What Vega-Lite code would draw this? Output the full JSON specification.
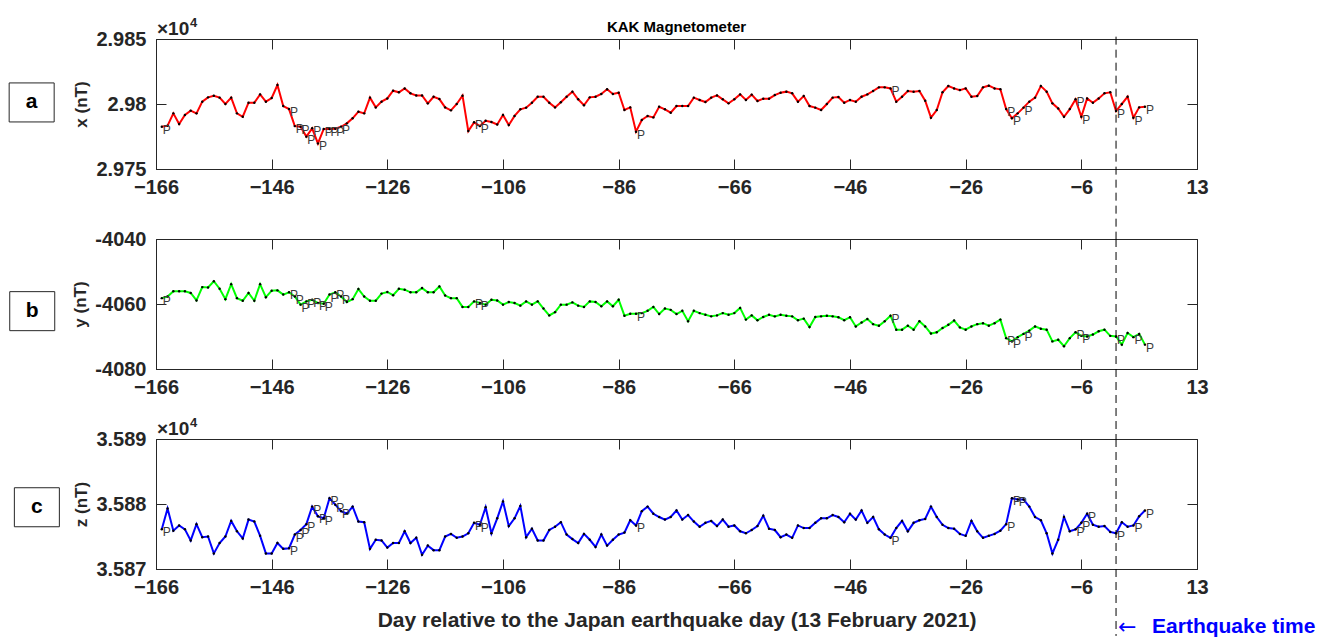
{
  "$schema": "https://vega.github.io/schema/vega-lite/v6.json",
  "background": "white",
  "padding": {"left": 6, "top": 16, "right": 13, "bottom": 0},
  "spacing": 70,
  "bounds": "flush",
  "config": {
    "font": "Liberation Sans",
    "view": {"stroke": "#262626", "strokeWidth": 1},
    "axis": {
      "grid": false,
      "tickSize": -10,
      "tickWidth": 1,
      "tickColor": "#262626",
      "domainColor": "#262626",
      "domainWidth": 1,
      "labelFont": "Liberation Sans",
      "labelFontSize": 20,
      "labelFontWeight": "bold",
      "labelColor": "#262626",
      "labelFlush": false,
      "labelOverlap": false,
      "titleFont": "Liberation Sans",
      "titleFontWeight": "bold",
      "titleColor": "#262626"
    }
  },
  "datasets": {
    "xs": [
      {"d":-165,"v":29782.5,"p":1},{"d":-164,"v":29783.3},{"d":-163,"v":29792.8},{"d":-162,"v":29784.6},{"d":-161,"v":29791.5},
      {"d":-160,"v":29794.9},{"d":-159,"v":29792.8},{"d":-158,"v":29801.8},{"d":-157,"v":29805.1},{"d":-156,"v":29806.4},
      {"d":-155,"v":29804.9},{"d":-154,"v":29800.0},{"d":-153,"v":29804.9},{"d":-152,"v":29792.8},{"d":-151,"v":29790.2},
      {"d":-150,"v":29801.0},{"d":-149,"v":29801.0},{"d":-148,"v":29807.4},{"d":-147,"v":29801.8},{"d":-146,"v":29804.6},
      {"d":-145,"v":29814.6},{"d":-144,"v":29798.4},{"d":-143,"v":29796.1,"p":1},{"d":-142,"v":29783.0,"p":1},{"d":-141,"v":29782.5,"p":1},
      {"d":-140,"v":29774.9,"p":1},{"d":-139,"v":29781.3,"p":1},{"d":-138,"v":29769.7,"p":1},{"d":-137,"v":29780.8,"p":1},{"d":-136,"v":29780.8,"p":1},
      {"d":-135,"v":29781.0,"p":1},{"d":-134,"v":29782.5,"p":1},{"d":-133,"v":29785.1},{"d":-132,"v":29789.0},{"d":-131,"v":29794.1},
      {"d":-130,"v":29792.8},{"d":-129,"v":29804.9},{"d":-128,"v":29797.4},{"d":-127,"v":29801.8},{"d":-126,"v":29804.3},
      {"d":-125,"v":29810.2},{"d":-124,"v":29809.0},{"d":-123,"v":29812.0},{"d":-122,"v":29808.2},{"d":-121,"v":29806.6},
      {"d":-120,"v":29806.6},{"d":-119,"v":29800.5},{"d":-118,"v":29805.6},{"d":-117,"v":29803.8},{"d":-116,"v":29797.4},
      {"d":-115,"v":29795.1},{"d":-114,"v":29800.0},{"d":-113,"v":29806.4},{"d":-112,"v":29779.2},{"d":-111,"v":29785.9,"p":1},
      {"d":-110,"v":29783.0,"p":1},{"d":-109,"v":29787.1},{"d":-108,"v":29786.1},{"d":-107,"v":29784.3},{"d":-106,"v":29791.5},
      {"d":-105,"v":29783.8},{"d":-104,"v":29790.8},{"d":-103,"v":29795.9},{"d":-102,"v":29797.2},{"d":-101,"v":29801.0},
      {"d":-100,"v":29805.6},{"d":-99,"v":29805.6},{"d":-98,"v":29801.0},{"d":-97,"v":29797.4},{"d":-96,"v":29801.3},
      {"d":-95,"v":29805.6},{"d":-94,"v":29809.5},{"d":-93,"v":29803.6},{"d":-92,"v":29799.0},{"d":-91,"v":29805.1},
      {"d":-90,"v":29805.6},{"d":-89,"v":29807.7},{"d":-88,"v":29811.3},{"d":-87,"v":29807.7},{"d":-86,"v":29808.7},
      {"d":-85,"v":29795.4},{"d":-84,"v":29797.4},{"d":-83,"v":29778.7,"p":1},{"d":-82,"v":29787.7},{"d":-81,"v":29790.8},
      {"d":-80,"v":29789.7},{"d":-79,"v":29797.9},{"d":-78,"v":29795.9},{"d":-77,"v":29793.3},{"d":-76,"v":29798.4},
      {"d":-75,"v":29798.4},{"d":-74,"v":29798.4},{"d":-73,"v":29804.9},{"d":-72,"v":29803.1},{"d":-71,"v":29801.5},
      {"d":-70,"v":29804.9},{"d":-69,"v":29806.6},{"d":-68,"v":29803.6},{"d":-67,"v":29800.5},{"d":-66,"v":29803.6},
      {"d":-65,"v":29807.4},{"d":-64,"v":29803.1},{"d":-63,"v":29807.2},{"d":-62,"v":29802.3},{"d":-61,"v":29804.1},
      {"d":-60,"v":29804.1},{"d":-59,"v":29806.9},{"d":-58,"v":29808.7},{"d":-57,"v":29809.5},{"d":-56,"v":29808.2},
      {"d":-55,"v":29801.8},{"d":-54,"v":29806.1},{"d":-53,"v":29798.4},{"d":-52,"v":29797.2},{"d":-51,"v":29795.4},
      {"d":-50,"v":29800.0},{"d":-49,"v":29804.9},{"d":-48,"v":29805.4},{"d":-47,"v":29801.0},{"d":-46,"v":29803.1},
      {"d":-45,"v":29801.8},{"d":-44,"v":29805.6},{"d":-43,"v":29807.4},{"d":-42,"v":29810.0},{"d":-41,"v":29812.8},
      {"d":-40,"v":29812.8},{"d":-39,"v":29812.0,"p":1},{"d":-38,"v":29801.8},{"d":-37,"v":29805.6},{"d":-36,"v":29810.0},
      {"d":-35,"v":29809.5},{"d":-34,"v":29810.0},{"d":-33,"v":29802.5},{"d":-32,"v":29789.5},{"d":-31,"v":29795.4},
      {"d":-30,"v":29809.0},{"d":-29,"v":29813.8},{"d":-28,"v":29812.0},{"d":-27,"v":29810.7},{"d":-26,"v":29812.0},
      {"d":-25,"v":29805.6},{"d":-24,"v":29806.1},{"d":-23,"v":29812.8},{"d":-22,"v":29814.1},{"d":-21,"v":29812.0},
      {"d":-20,"v":29811.3},{"d":-19,"v":29796.1,"p":1},{"d":-18,"v":29789.0,"p":1},{"d":-17,"v":29792.8},{"d":-16,"v":29797.2,"p":1},
      {"d":-15,"v":29801.8},{"d":-14,"v":29804.9},{"d":-13,"v":29813.8},{"d":-12,"v":29809.5},{"d":-11,"v":29800.5},
      {"d":-10,"v":29796.6},{"d":-9,"v":29790.2},{"d":-8,"v":29796.1},{"d":-7,"v":29803.6,"p":1},{"d":-6,"v":29790.2,"p":1},
      {"d":-5,"v":29804.3},{"d":-4,"v":29801.0},{"d":-3,"v":29804.3},{"d":-2,"v":29808.2},{"d":-1,"v":29809.0},
      {"d":0,"v":29794.6,"p":1},{"d":1,"v":29800.0},{"d":2,"v":29805.6},{"d":3,"v":29789.5,"p":1},{"d":4,"v":29797.4},
      {"d":5,"v":29797.9,"p":1}
    ],
    "ys": [
      {"d":-165,"v":-4058.2,"p":1},{"d":-164,"v":-4057.7},{"d":-163,"v":-4056.1},{"d":-162,"v":-4056.1},{"d":-161,"v":-4056.1},
      {"d":-160,"v":-4056.6},{"d":-159,"v":-4058.9},{"d":-158,"v":-4054.8},{"d":-157,"v":-4054.9},{"d":-156,"v":-4053.0},
      {"d":-155,"v":-4055.3},{"d":-154,"v":-4058.5},{"d":-153,"v":-4053.9},{"d":-152,"v":-4058.2},{"d":-151,"v":-4059.0},
      {"d":-150,"v":-4056.6},{"d":-149,"v":-4059.0},{"d":-148,"v":-4053.9},{"d":-147,"v":-4057.9},{"d":-146,"v":-4055.9},
      {"d":-145,"v":-4055.8},{"d":-144,"v":-4057.1},{"d":-143,"v":-4056.4,"p":1},{"d":-142,"v":-4057.7,"p":1},{"d":-141,"v":-4060.2,"p":1},
      {"d":-140,"v":-4059.2,"p":1},{"d":-139,"v":-4058.7,"p":1},{"d":-138,"v":-4059.7,"p":1},{"d":-137,"v":-4059.9,"p":1},{"d":-136,"v":-4057.1,"p":1},
      {"d":-135,"v":-4056.4,"p":1},{"d":-134,"v":-4057.7,"p":1},{"d":-133,"v":-4059.4},{"d":-132,"v":-4058.5},{"d":-131,"v":-4055.4},
      {"d":-130,"v":-4057.7},{"d":-129,"v":-4059.0},{"d":-128,"v":-4059.0},{"d":-127,"v":-4056.8},{"d":-126,"v":-4056.3},
      {"d":-125,"v":-4057.3},{"d":-124,"v":-4055.3},{"d":-123,"v":-4055.6},{"d":-122,"v":-4056.4},{"d":-121,"v":-4056.4},
      {"d":-120,"v":-4055.1},{"d":-119,"v":-4056.4},{"d":-118,"v":-4056.4},{"d":-117,"v":-4054.6},{"d":-116,"v":-4057.4},
      {"d":-115,"v":-4058.2},{"d":-114,"v":-4058.2},{"d":-113,"v":-4060.9},{"d":-112,"v":-4060.9},{"d":-111,"v":-4059.2,"p":1},
      {"d":-110,"v":-4059.7,"p":1},{"d":-109,"v":-4060.2},{"d":-108,"v":-4058.7},{"d":-107,"v":-4058.9},{"d":-106,"v":-4060.2},
      {"d":-105,"v":-4059.4},{"d":-104,"v":-4059.7},{"d":-103,"v":-4060.5},{"d":-102,"v":-4059.2},{"d":-101,"v":-4060.2},
      {"d":-100,"v":-4059.2},{"d":-99,"v":-4061.4},{"d":-98,"v":-4063.5},{"d":-97,"v":-4062.5},{"d":-96,"v":-4060.2},
      {"d":-95,"v":-4060.2},{"d":-94,"v":-4059.5},{"d":-93,"v":-4060.5},{"d":-92,"v":-4060.9},{"d":-91,"v":-4059.2},
      {"d":-90,"v":-4059.4},{"d":-89,"v":-4060.7},{"d":-88,"v":-4059.2},{"d":-87,"v":-4060.7},{"d":-86,"v":-4058.7},
      {"d":-85,"v":-4063.6},{"d":-84,"v":-4063.0},{"d":-83,"v":-4063.0,"p":1},{"d":-82,"v":-4062.8},{"d":-81,"v":-4062.1},
      {"d":-80,"v":-4060.9},{"d":-79,"v":-4063.1},{"d":-78,"v":-4061.4},{"d":-77,"v":-4061.8},{"d":-76,"v":-4063.1},
      {"d":-75,"v":-4062.1},{"d":-74,"v":-4065.3},{"d":-73,"v":-4062.1},{"d":-72,"v":-4062.8},{"d":-71,"v":-4063.3},
      {"d":-70,"v":-4063.8},{"d":-69,"v":-4063.5},{"d":-68,"v":-4062.8},{"d":-67,"v":-4063.3},{"d":-66,"v":-4062.8},
      {"d":-65,"v":-4061.2},{"d":-64,"v":-4064.8},{"d":-63,"v":-4063.5},{"d":-62,"v":-4065.0},{"d":-61,"v":-4064.0},
      {"d":-60,"v":-4063.3},{"d":-59,"v":-4063.8},{"d":-58,"v":-4063.3},{"d":-57,"v":-4063.6},{"d":-56,"v":-4063.8},
      {"d":-55,"v":-4065.0},{"d":-54,"v":-4064.5},{"d":-53,"v":-4067.1},{"d":-52,"v":-4064.0},{"d":-51,"v":-4063.8},
      {"d":-50,"v":-4063.6},{"d":-49,"v":-4063.8},{"d":-48,"v":-4064.1},{"d":-47,"v":-4065.0},{"d":-46,"v":-4064.1},
      {"d":-45,"v":-4066.9},{"d":-44,"v":-4065.7},{"d":-43,"v":-4064.6},{"d":-42,"v":-4066.2},{"d":-41,"v":-4066.7},
      {"d":-40,"v":-4065.3},{"d":-39,"v":-4063.6,"p":1},{"d":-38,"v":-4067.9},{"d":-37,"v":-4067.9},{"d":-36,"v":-4066.7},
      {"d":-35,"v":-4067.9},{"d":-34,"v":-4065.3},{"d":-33,"v":-4066.9},{"d":-32,"v":-4069.1},{"d":-31,"v":-4068.7},
      {"d":-30,"v":-4067.4},{"d":-29,"v":-4066.4},{"d":-28,"v":-4065.1},{"d":-27,"v":-4067.2},{"d":-26,"v":-4067.9},
      {"d":-25,"v":-4066.9},{"d":-24,"v":-4066.2},{"d":-23,"v":-4065.9},{"d":-22,"v":-4066.7},{"d":-21,"v":-4065.9},
      {"d":-20,"v":-4064.8},{"d":-19,"v":-4070.5,"p":1},{"d":-18,"v":-4071.5,"p":1},{"d":-17,"v":-4070.2},{"d":-16,"v":-4069.2,"p":1},
      {"d":-15,"v":-4068.2},{"d":-14,"v":-4066.9},{"d":-13,"v":-4067.6},{"d":-12,"v":-4067.9},{"d":-11,"v":-4071.5},
      {"d":-10,"v":-4071.0},{"d":-9,"v":-4073.0},{"d":-8,"v":-4070.5},{"d":-7,"v":-4068.7,"p":1},{"d":-6,"v":-4069.8,"p":1},
      {"d":-5,"v":-4070.0},{"d":-4,"v":-4069.4},{"d":-3,"v":-4068.4},{"d":-2,"v":-4067.9},{"d":-1,"v":-4069.8},
      {"d":0,"v":-4070.0,"p":1},{"d":1,"v":-4072.5},{"d":2,"v":-4068.9},{"d":3,"v":-4070.2,"p":1},{"d":4,"v":-4069.2},
      {"d":5,"v":-4072.5,"p":1}
    ],
    "zs": [
      {"d":-165,"v":35876.1,"p":1},{"d":-164,"v":35879.3},{"d":-163,"v":35875.9},{"d":-162,"v":35876.7},{"d":-161,"v":35876.1},
      {"d":-160,"v":35874.4},{"d":-159,"v":35876.9},{"d":-158,"v":35874.9},{"d":-157,"v":35875.0},{"d":-156,"v":35872.4},
      {"d":-155,"v":35874.0},{"d":-154,"v":35875.0},{"d":-153,"v":35877.4},{"d":-152,"v":35875.8},{"d":-151,"v":35874.7},
      {"d":-150,"v":35877.6},{"d":-149,"v":35877.3},{"d":-148,"v":35875.1},{"d":-147,"v":35872.4},{"d":-146,"v":35872.4},
      {"d":-145,"v":35874.0},{"d":-144,"v":35873.1},{"d":-143,"v":35873.2,"p":1},{"d":-142,"v":35875.3,"p":1},{"d":-141,"v":35876.0,"p":1},
      {"d":-140,"v":35876.9,"p":1},{"d":-139,"v":35879.6,"p":1},{"d":-138,"v":35878.1,"p":1},{"d":-137,"v":35877.8,"p":1},{"d":-136,"v":35880.9,"p":1},
      {"d":-135,"v":35879.9,"p":1},{"d":-134,"v":35878.9,"p":1},{"d":-133,"v":35878.5},{"d":-132,"v":35879.6},{"d":-131,"v":35877.3},
      {"d":-130,"v":35877.2},{"d":-129,"v":35873.1},{"d":-128,"v":35874.5},{"d":-127,"v":35874.4},{"d":-126,"v":35873.3},
      {"d":-125,"v":35874.0},{"d":-124,"v":35874.0},{"d":-123,"v":35875.8},{"d":-122,"v":35874.0},{"d":-121,"v":35874.8},
      {"d":-120,"v":35872.2},{"d":-119,"v":35873.6},{"d":-118,"v":35872.9},{"d":-117,"v":35872.9},{"d":-116,"v":35875.0},
      {"d":-115,"v":35875.4},{"d":-114,"v":35874.8},{"d":-113,"v":35875.0},{"d":-112,"v":35875.5},{"d":-111,"v":35877.1,"p":1},
      {"d":-110,"v":35876.8,"p":1},{"d":-109,"v":35879.5},{"d":-108,"v":35875.5},{"d":-107,"v":35877.8},{"d":-106,"v":35880.4},
      {"d":-105,"v":35876.6},{"d":-104,"v":35877.8},{"d":-103,"v":35879.7},{"d":-102,"v":35874.9},{"d":-101,"v":35876.2},
      {"d":-100,"v":35874.4},{"d":-99,"v":35874.4},{"d":-98,"v":35876.0},{"d":-97,"v":35876.5},{"d":-96,"v":35877.2},
      {"d":-95,"v":35875.3},{"d":-94,"v":35874.6},{"d":-93,"v":35874.0},{"d":-92,"v":35875.4},{"d":-91,"v":35874.5},
      {"d":-90,"v":35873.4},{"d":-89,"v":35875.3},{"d":-88,"v":35873.6},{"d":-87,"v":35874.5},{"d":-86,"v":35875.3},
      {"d":-85,"v":35875.6},{"d":-84,"v":35877.5},{"d":-83,"v":35876.7,"p":1},{"d":-82,"v":35878.9},{"d":-81,"v":35879.6},
      {"d":-80,"v":35878.5},{"d":-79,"v":35878.0},{"d":-78,"v":35877.6},{"d":-77,"v":35878.0},{"d":-76,"v":35879.0},
      {"d":-75,"v":35877.6},{"d":-74,"v":35878.3},{"d":-73,"v":35877.3},{"d":-72,"v":35876.5},{"d":-71,"v":35877.1},
      {"d":-70,"v":35877.4},{"d":-69,"v":35876.6},{"d":-68,"v":35877.6},{"d":-67,"v":35876.5},{"d":-66,"v":35876.7},
      {"d":-65,"v":35875.8},{"d":-64,"v":35875.5},{"d":-63,"v":35876.0},{"d":-62,"v":35876.6},{"d":-61,"v":35878.2},
      {"d":-60,"v":35876.2},{"d":-59,"v":35876.0},{"d":-58,"v":35874.9},{"d":-57,"v":35875.3},{"d":-56,"v":35874.8},
      {"d":-55,"v":35876.7},{"d":-54,"v":35876.3},{"d":-53,"v":35876.3},{"d":-52,"v":35877.1},{"d":-51,"v":35877.8},
      {"d":-50,"v":35877.8},{"d":-49,"v":35878.3},{"d":-48,"v":35878.0},{"d":-47,"v":35877.2},{"d":-46,"v":35878.5},
      {"d":-45,"v":35877.6},{"d":-44,"v":35879.0},{"d":-43,"v":35877.1},{"d":-42,"v":35878.0},{"d":-41,"v":35876.1},
      {"d":-40,"v":35875.3},{"d":-39,"v":35874.8,"p":1},{"d":-38,"v":35876.3},{"d":-37,"v":35877.4},{"d":-36,"v":35875.8},
      {"d":-35,"v":35877.1},{"d":-34,"v":35877.5},{"d":-33,"v":35877.7},{"d":-32,"v":35879.6},{"d":-31,"v":35878.0},
      {"d":-30,"v":35876.8},{"d":-29,"v":35876.3},{"d":-28,"v":35876.2},{"d":-27,"v":35875.4},{"d":-26,"v":35875.1},
      {"d":-25,"v":35877.4},{"d":-24,"v":35875.8},{"d":-23,"v":35874.8},{"d":-22,"v":35875.1},{"d":-21,"v":35875.4},
      {"d":-20,"v":35875.9},{"d":-19,"v":35876.9,"p":1},{"d":-18,"v":35880.9,"p":1},{"d":-17,"v":35880.7,"p":1},{"d":-16,"v":35880.7},
      {"d":-15,"v":35879.6},{"d":-14,"v":35878.0},{"d":-13,"v":35877.5},{"d":-12,"v":35875.5},{"d":-11,"v":35872.4},
      {"d":-10,"v":35874.5},{"d":-9,"v":35878.0},{"d":-8,"v":35875.8},{"d":-7,"v":35876.1,"p":1},{"d":-6,"v":35877.1,"p":1},
      {"d":-5,"v":35878.5,"p":1},{"d":-4,"v":35876.8},{"d":-3,"v":35876.5},{"d":-2,"v":35876.6},{"d":-1,"v":35875.7},
      {"d":0,"v":35875.5,"p":1},{"d":1,"v":35877.2},{"d":2,"v":35876.5},{"d":3,"v":35876.7,"p":1},{"d":4,"v":35878.1},
      {"d":5,"v":35879.0,"p":1}
    ]
  },
  "vconcat": [
    {
      "width": 1041, "height": 130,
      "resolve": {"axis": {"x": "independent", "y": "independent"}},
      "layer": [
        {"data": {"name": "xs"}, "mark": {"type": "line", "color": "#ff0000", "strokeWidth": 2},
         "encoding": {
           "x": {"field": "d", "type": "quantitative", "scale": {"domain": [-166, 14], "nice": false, "zero": false},
                 "axis": {"orient": "bottom", "values": [-166,-146,-126,-106,-86,-66,-46,-26,-6,14], "labelExpr": "datum.value == 14 ? '13' : datum.label", "labelPadding": 18, "title": null}},
           "y": {"field": "v", "type": "quantitative", "scale": {"domain": [29750, 29850], "nice": false, "zero": false},
                 "axis": {"orient": "left", "values": [29750, 29800, 29850], "labelExpr": "format(datum.value / 10000, '.3~f')", "labelPadding": 20, "title": "x (nT)", "titleFontSize": 17, "titlePadding": 5.5}}
         }},
        {"data": {"name": "xs"}, "mark": {"type": "point", "filled": true, "color": "#000000", "size": 6, "opacity": 1},
         "encoding": {
           "x": {"field": "d", "type": "quantitative", "axis": {"orient": "top", "values": [-166,-146,-126,-106,-86,-66,-46,-26,-6,14], "labels": false, "domain": false, "title": null}},
           "y": {"field": "v", "type": "quantitative", "axis": {"orient": "right", "values": [29750, 29800, 29850], "labels": false, "domain": false, "title": null}}
         }},
        {"data": {"name": "xs"}, "transform": [{"filter": "datum.p"}],
         "mark": {"type": "text", "text": "P", "align": "left", "baseline": "middle", "dx": 1, "dy": 3, "fontSize": 12, "color": "#3a3a3a"},
         "encoding": {"x": {"field": "d", "type": "quantitative", "axis": null}, "y": {"field": "v", "type": "quantitative", "axis": null}}},
        {"data": {"values": [{}]}, "mark": {"type": "rule", "strokeDash": [8, 5], "color": "#000000", "strokeWidth": 1, "clip": false},
         "encoding": {"x": {"datum": 0, "type": "quantitative", "axis": null}, "y": {"datum": 29851.8, "type": "quantitative", "axis": null}, "y2": {"datum": 29696}}},
        {"data": {"values": [{"lab": "a"}]}, "mark": {"type": "point", "shape": "M-1,-0.867L1,-0.867L1,0.867L-1,0.867Z", "size": 2025, "filled": true, "color": "#ffffff", "stroke": "#262626", "strokeWidth": 1, "opacity": 1, "clip": false},
         "encoding": {"x": {"datum": -187.5, "type": "quantitative", "axis": null}, "y": {"datum": 29801.2, "type": "quantitative", "axis": null}}},
        {"data": {"values": [{"lab": "a"}]}, "mark": {"type": "text", "fontSize": 21, "fontWeight": "bold", "align": "center", "baseline": "middle", "color": "#000000", "clip": false},
         "encoding": {"text": {"field": "lab"}, "x": {"datum": -187.5, "type": "quantitative", "axis": null}, "y": {"datum": 29801.2, "type": "quantitative", "axis": null}}},
        {"data": {"values": [{"t": "×10"}]}, "mark": {"type": "text", "fontSize": 19, "fontWeight": "bold", "align": "left", "baseline": "alphabetic", "dx": 1, "dy": -4, "color": "#262626", "clip": false},
         "encoding": {"text": {"field": "t"}, "x": {"datum": -166, "type": "quantitative", "axis": null}, "y": {"datum": 29850, "type": "quantitative", "axis": null}}},
        {"data": {"values": [{"t": "4"}]}, "mark": {"type": "text", "fontSize": 13, "fontWeight": "bold", "align": "left", "baseline": "alphabetic", "dx": 34, "dy": -12, "color": "#262626", "clip": false},
         "encoding": {"text": {"field": "t"}, "x": {"datum": -166, "type": "quantitative", "axis": null}, "y": {"datum": 29850, "type": "quantitative", "axis": null}}},
        {"data": {"values": [{"t": "KAK Magnetometer"}]}, "mark": {"type": "text", "fontSize": 15, "fontWeight": "bold", "align": "center", "baseline": "alphabetic", "dy": -7.5, "color": "#000000", "clip": false},
         "encoding": {"text": {"field": "t"}, "x": {"datum": -76, "type": "quantitative", "axis": null}, "y": {"datum": 29850, "type": "quantitative", "axis": null}}}
      ]
    },
    {
      "width": 1041, "height": 130,
      "resolve": {"axis": {"x": "independent", "y": "independent"}},
      "layer": [
        {"data": {"name": "ys"}, "mark": {"type": "line", "color": "#00ff00", "strokeWidth": 2},
         "encoding": {
           "x": {"field": "d", "type": "quantitative", "scale": {"domain": [-166, 14], "nice": false, "zero": false},
                 "axis": {"orient": "bottom", "values": [-166,-146,-126,-106,-86,-66,-46,-26,-6,14], "labelExpr": "datum.value == 14 ? '13' : datum.label", "labelPadding": 18, "title": null}},
           "y": {"field": "v", "type": "quantitative", "scale": {"domain": [-4080, -4040], "nice": false, "zero": false},
                 "axis": {"orient": "left", "values": [-4080, -4060, -4040], "labelExpr": "'-' + format(-datum.value, 'd')", "labelPadding": 20, "title": "y (nT)", "titleFontSize": 17, "titlePadding": 5.5}}
         }},
        {"data": {"name": "ys"}, "mark": {"type": "point", "filled": true, "color": "#000000", "size": 6, "opacity": 1},
         "encoding": {
           "x": {"field": "d", "type": "quantitative", "axis": {"orient": "top", "values": [-166,-146,-126,-106,-86,-66,-46,-26,-6,14], "labels": false, "domain": false, "title": null}},
           "y": {"field": "v", "type": "quantitative", "axis": {"orient": "right", "values": [-4080, -4060, -4040], "labels": false, "domain": false, "title": null}}
         }},
        {"data": {"name": "ys"}, "transform": [{"filter": "datum.p"}],
         "mark": {"type": "text", "text": "P", "align": "left", "baseline": "middle", "dx": 1, "dy": 3, "fontSize": 12, "color": "#3a3a3a"},
         "encoding": {"x": {"field": "d", "type": "quantitative", "axis": null}, "y": {"field": "v", "type": "quantitative", "axis": null}}},
        {"data": {"values": [{}]}, "mark": {"type": "rule", "strokeDash": [8, 5], "color": "#000000", "strokeWidth": 1, "clip": false},
         "encoding": {"x": {"datum": 0, "type": "quantitative", "axis": null}, "y": {"datum": -4040, "type": "quantitative", "axis": null}, "y2": {"datum": -4101.6}}},
        {"data": {"values": [{"lab": "b"}]}, "mark": {"type": "point", "shape": "M-1,-0.867L1,-0.867L1,0.867L-1,0.867Z", "size": 2025, "filled": true, "color": "#ffffff", "stroke": "#262626", "strokeWidth": 1, "opacity": 1, "clip": false},
         "encoding": {"x": {"datum": -187.4, "type": "quantitative", "axis": null}, "y": {"datum": -4062.2, "type": "quantitative", "axis": null}}},
        {"data": {"values": [{"lab": "b"}]}, "mark": {"type": "text", "fontSize": 21, "fontWeight": "bold", "align": "center", "baseline": "middle", "color": "#000000", "clip": false},
         "encoding": {"text": {"field": "lab"}, "x": {"datum": -187.4, "type": "quantitative", "axis": null}, "y": {"datum": -4062.2, "type": "quantitative", "axis": null}}}
      ]
    },
    {
      "width": 1041, "height": 130,
      "resolve": {"axis": {"x": "independent", "y": "independent"}},
      "layer": [
        {"data": {"name": "zs"}, "mark": {"type": "line", "color": "#0000ff", "strokeWidth": 2},
         "encoding": {
           "x": {"field": "d", "type": "quantitative", "scale": {"domain": [-166, 14], "nice": false, "zero": false},
                 "axis": {"orient": "bottom", "values": [-166,-146,-126,-106,-86,-66,-46,-26,-6,14], "labelExpr": "datum.value == 14 ? '13' : datum.label", "labelPadding": 18, "title": "Day relative to the Japan earthquake day (13 February 2021)", "titleFontSize": 21, "titlePadding": 12}},
           "y": {"field": "v", "type": "quantitative", "scale": {"domain": [35870, 35890], "nice": false, "zero": false},
                 "axis": {"orient": "left", "values": [35870, 35880, 35890], "labelExpr": "format(datum.value / 10000, '.3~f')", "labelPadding": 20, "title": "z (nT)", "titleFontSize": 17, "titlePadding": 5.5}}
         }},
        {"data": {"name": "zs"}, "mark": {"type": "point", "filled": true, "color": "#000000", "size": 6, "opacity": 1},
         "encoding": {
           "x": {"field": "d", "type": "quantitative", "axis": {"orient": "top", "values": [-166,-146,-126,-106,-86,-66,-46,-26,-6,14], "labels": false, "domain": false, "title": null}},
           "y": {"field": "v", "type": "quantitative", "axis": {"orient": "right", "values": [35870, 35880, 35890], "labels": false, "domain": false, "title": null}}
         }},
        {"data": {"name": "zs"}, "transform": [{"filter": "datum.p"}],
         "mark": {"type": "text", "text": "P", "align": "left", "baseline": "middle", "dx": 1, "dy": 3, "fontSize": 12, "color": "#3a3a3a"},
         "encoding": {"x": {"field": "d", "type": "quantitative", "axis": null}, "y": {"field": "v", "type": "quantitative", "axis": null}}},
        {"data": {"values": [{}]}, "mark": {"type": "rule", "strokeDash": [8, 5], "color": "#000000", "strokeWidth": 1, "clip": false},
         "encoding": {"x": {"datum": 0, "type": "quantitative", "axis": null}, "y": {"datum": 35890, "type": "quantitative", "axis": null}, "y2": {"datum": 35859.7}}},
        {"data": {"values": [{"lab": "c"}]}, "mark": {"type": "point", "shape": "M-1,-0.867L1,-0.867L1,0.867L-1,0.867Z", "size": 2025, "filled": true, "color": "#ffffff", "stroke": "#262626", "strokeWidth": 1, "opacity": 1, "clip": false},
         "encoding": {"x": {"datum": -186.6, "type": "quantitative", "axis": null}, "y": {"datum": 35879.5, "type": "quantitative", "axis": null}}},
        {"data": {"values": [{"lab": "c"}]}, "mark": {"type": "text", "fontSize": 21, "fontWeight": "bold", "align": "center", "baseline": "middle", "color": "#000000", "clip": false},
         "encoding": {"text": {"field": "lab"}, "x": {"datum": -186.6, "type": "quantitative", "axis": null}, "y": {"datum": 35879.5, "type": "quantitative", "axis": null}}},
        {"data": {"values": [{"t": "×10"}]}, "mark": {"type": "text", "fontSize": 19, "fontWeight": "bold", "align": "left", "baseline": "alphabetic", "dx": 1, "dy": -4, "color": "#262626", "clip": false},
         "encoding": {"text": {"field": "t"}, "x": {"datum": -166, "type": "quantitative", "axis": null}, "y": {"datum": 35890, "type": "quantitative", "axis": null}}},
        {"data": {"values": [{"t": "4"}]}, "mark": {"type": "text", "fontSize": 13, "fontWeight": "bold", "align": "left", "baseline": "alphabetic", "dx": 34, "dy": -12, "color": "#262626", "clip": false},
         "encoding": {"text": {"field": "t"}, "x": {"datum": -166, "type": "quantitative", "axis": null}, "y": {"datum": 35890, "type": "quantitative", "axis": null}}},
        {"data": {"values": [{"t": "←"}]}, "mark": {"type": "text", "font": "DejaVu Sans", "fontSize": 22, "fontWeight": "normal", "align": "left", "baseline": "middle", "dx": 2, "dy": 58, "color": "#0000ff", "clip": false},
         "encoding": {"text": {"field": "t"}, "x": {"datum": 0, "type": "quantitative", "axis": null}, "y": {"datum": 35870, "type": "quantitative", "axis": null}}},
        {"data": {"values": [{"t": "Earthquake time"}]}, "mark": {"type": "text", "fontSize": 21, "fontWeight": "bold", "align": "left", "baseline": "middle", "dx": 36, "dy": 58, "color": "#0000ff", "clip": false},
         "encoding": {"text": {"field": "t"}, "x": {"datum": 0, "type": "quantitative", "axis": null}, "y": {"datum": 35870, "type": "quantitative", "axis": null}}}
      ]
    }
  ]
}
